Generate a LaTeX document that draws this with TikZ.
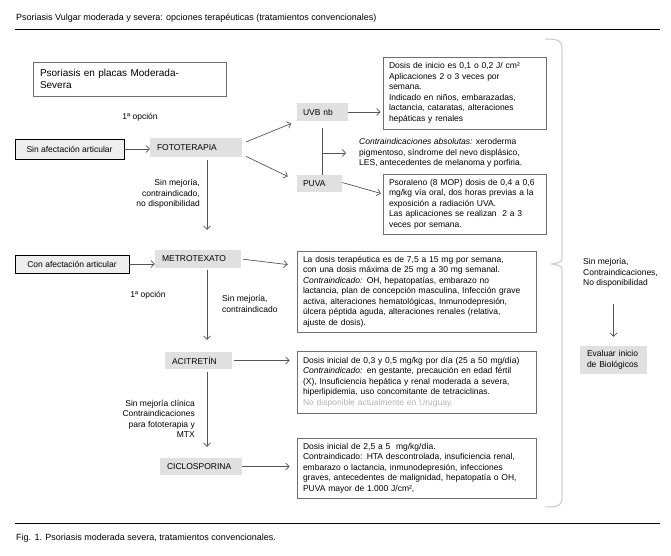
\documentclass[tikz,border=0pt]{standalone}
\usepackage{fontspec}
\setmainfont{Liberation Sans}
\usetikzlibrary{arrows.meta}

\definecolor{boxgray}{HTML}{E0E0E0}
\definecolor{framegray}{HTML}{6E6E6E}
\definecolor{arrowgray}{HTML}{555555}
\definecolor{bracegray}{HTML}{C8C8C8}

\begin{document}
\begin{tikzpicture}[
        x=1pt, y=-1pt,
        font=\fontsize{8.5}{10.5}\selectfont,
        graybox/.style={
            rectangle,
            fill=boxgray,
            inner xsep=7pt,
            inner ysep=0pt,
            align=left,
        },
        framebox/.style={
            rectangle,
            draw=black,
            line width=0.9pt,
            fill=boxgray!55,
            inner sep=0pt,
        },
        infobox/.style={
            rectangle,
            draw=framegray,
            line width=0.6pt,
            inner xsep=6pt,
            inner ysep=0pt,
            align=left,
        },
        label/.style={
            inner sep=0pt,
        },
        arr/.style={
            draw=arrowgray,
            line width=0.7pt,
            -{Straight Barb[length=3.5pt,width=7pt]}
        },
    ]

    \useasboundingbox (0,0) rectangle (671,556);

    \node (title) at (16,18) [label, anchor=west, font=\fontsize{9}{11}\selectfont] {Psoriasis Vulgar moderada y severa: opciones terapéuticas (tratamientos convencionales)};
    \draw [line width=0.8pt] (15,29) -- (660,29);
    \draw [line width=0.8pt] (15,523) -- (660,523);
    \node (caption) at (16,538) [label, anchor=west, font=\fontsize{9}{11}\selectfont] {Fig. 1. Psoriasis moderada severa, tratamientos convencionales.};

    \node (placas) at (129.5,79) [infobox, inner xsep=7pt, text width=179pt, minimum height=34pt, font=\fontsize{10}{12.5}\selectfont] {Psoriasis en placas Moderada-\\Severa};

    \node (sin) at (69.5,149) [framebox, minimum width=109pt, minimum height=20pt] {Sin afectación articular};
    \node (con) at (72,264) [framebox, minimum width=114pt, minimum height=18pt] {Con afectación articular};

    \node (foto) at (196,147.5) [graybox, text width=78pt, minimum height=19pt] {FOTOTERAPIA};
    \node (uvb) at (322.5,112) [graybox, inner xsep=6pt, text width=39pt, minimum height=18pt] {UVB nb};
    \node (puva) at (319.5,183.5) [graybox, inner xsep=6pt, text width=33pt, minimum height=17pt] {PUVA};
    \node (metro) at (198,259) [graybox, text width=72pt, minimum height=18pt] {METROTEXATO};
    \node (aci) at (198.5,360.5) [graybox, text width=53pt, minimum height=17pt] {ACITRETÍN};
    \node (cic) at (201,466.5) [graybox, text width=68pt, minimum height=17pt] {CICLOSPORINA};
    \node (bio) at (613.5,360) [graybox, text width=53pt, minimum height=28pt] {Evaluar inicio\\de Biológicos};

    \node (uvbtxt) at (464.5,93) [infobox, text width=151pt, minimum height=72pt] {Dosis de inicio es 0,1 o 0,2 J/ cm²\\Aplicaciones 2 o 3 veces por\\semana.\\Indicado en niños, embarazadas,\\lactancia, cataratas, alteraciones\\hepáticas y renales};
    \node (citxt) at (359,153) [label, anchor=west, align=left] {\textit{Contraindicaciones absolutas:} xeroderma\\pigmentoso, síndrome del nevo displásico,\\LES, antecedentes de melanoma y porfiria.};
    \node (puvatxt) at (464.5,204) [infobox, text width=151pt, minimum height=60pt] {Psoraleno (8 MOP) dosis de 0,4 a 0,6\\mg/kg vía oral, dos horas previas a la\\exposición a radiación UVA.\\Las aplicaciones se realizan \ 2 a 3\\veces por semana.};
    \node (mtxtxt) at (416.5,291.5) [infobox, text width=227pt, minimum height=81pt] {La dosis terapéutica es de 7,5 a 15 mg por semana,\\con una dosis máxima de 25 mg a 30 mg semanal.\\\textit{Contraindicado:} OH, hepatopatías, embarazo no\\lactancia, plan de concepción masculina, Infección grave\\activa, alteraciones hematológicas, Inmunodepresión,\\úlcera péptida aguda, alteraciones renales (relativa,\\ajuste de dosis).};
    \node (acitxt) at (416.5,382) [infobox, text width=227pt, minimum height=62pt] {Dosis inicial de 0,3 y 0,5 mg/kg por día (25 a 50 mg/día)\\\textit{Contraindicado:} en gestante, precaución en edad fértil\\(X), Insuficiencia hepática y renal moderada a severa,\\hiperlipidemia, uso concomitante de tetraciclinas.\\\textcolor{gray!60}{No disponible actualmente en Uruguay.}};
    \node (cictxt) at (416.5,468) [infobox, text width=227pt, minimum height=60pt] {Dosis inicial de 2,5 a 5 \ mg/kg/día.\\Contraindicado: HTA descontrolada, insuficiencia renal,\\embarazo o lactancia, inmunodepresión, infecciones\\graves, antecedentes de malignidad, hepatopatía o OH,\\PUVA mayor de 1.000 J/cm²,};

    \node (op1) at (140,117) [label] {1ª opción};
    \node (op2) at (148,295) [label] {1ª opción};
    \node (lbl1) at (200,194) [label, anchor=east, align=right] {Sin mejoría,\\contraindicado,\\no disponibilidad};
    \node (lbl2) at (222,304) [label, anchor=west, align=left] {Sin mejoría,\\contraindicado};
    \node (lbl3) at (195,419) [label, anchor=east, align=right] {Sin mejoría clínica\\Contraindicaciones\\para fototerapia y\\MTX};
    \node (lblr) at (583,273) [label, anchor=west, align=left] {Sin mejoría,\\Contraindicaciones,\\No disponibilidad};

    \coordinate (spine) at (207,0);

    \draw [arr] (sin.east) -- (sin.east -| foto.west);
    \draw [arr] (con.east) -- (con.east -| metro.west);
    \draw [arr, shorten <=4pt, shorten >=6pt] ([yshift=4pt]foto.east) -- (uvb.south west);
    \draw [arr, shorten <=4pt, shorten >=10pt] ([yshift=-7pt]foto.east) -- ([yshift=-6pt]puva.north west);
    \draw [draw=arrowgray, line width=0.7pt, shorten <=7pt] (uvb.south) -- (uvb.south |- puva.north);
    \draw [arr, shorten >=13pt] (uvb.south |- citxt.west) -- (citxt.west);
    \draw [arr, shorten >=2pt] (uvb.east) -- (uvb.east -| uvbtxt.west);
    \draw [arr, shorten >=2pt] ([yshift=1pt]puva.east) -- ([yshift=10pt]puvatxt.west);
    \draw [arr, shorten <=3pt, shorten >=20pt] (foto.south -| spine) -- (metro.north -| spine);
    \draw [arr, shorten <=2pt, shorten >=9pt] (metro.east) -- ([yshift=-15pt]mtxtxt.north west);
    \draw [arr, shorten <=2pt, shorten >=12pt] (metro.south -| spine) -- (aci.north -| spine);
    \draw [arr, shorten <=2pt, shorten >=7pt] (aci.east) -- (aci.east -| acitxt.west);
    \draw [arr, shorten <=3pt, shorten >=11pt] (aci.south -| spine) -- (cic.north -| spine);
    \draw [arr, shorten >=7pt] (cic.east) -- (cic.east -| cictxt.west);
    \draw [arr, shorten <=16pt, shorten >=9pt] (bio.north |- lblr.south) -- (bio.north);

    \draw [draw=bracegray, line width=1pt] (545,39) .. controls (560,39) and (562,41) .. (562,50) -- (562,256) .. controls (562,262) .. (552,264) .. controls (562,266) .. (562,272) -- (562,497) .. controls (562,505) and (560,507) .. (545,507);

\end{tikzpicture}
\end{document}
